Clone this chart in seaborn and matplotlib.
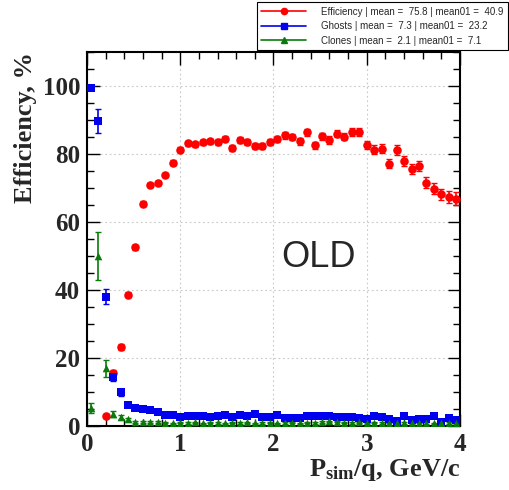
import numpy as np
import pandas as pd
import seaborn as sns
import matplotlib.pyplot as plt
from matplotlib.lines import Line2D
from matplotlib.ticker import MultipleLocator

# 50 momentum bins of 0.08 GeV/c between 0 and 4
p_edges = np.linspace(0, 4, 51)
p_centers = 0.5 * (p_edges[:-1] + p_edges[1:])

eff = [np.nan, np.nan, 3.0, 15.6, 23.2, 38.6, 52.5, 65.4, 70.9, 71.5,
       73.8, 77.4, 81.3, 83.1, 82.8, 83.4, 83.7, 83.5, 84.5, 81.7,
       84.1, 83.5, 82.4, 82.4, 83.5, 84.4, 85.5, 85.0, 83.7, 86.4,
       82.6, 85.2, 84.1, 86.0, 85.1, 86.5, 86.5, 82.6, 81.2, 81.6,
       77.2, 81.2, 77.9, 75.7, 76.5, 71.6, 69.8, 68.1, 67.4, 66.9]
eff_err = [0, 0, 0.6, 0.8, 0.8, 0.8, 0.8, 0.7, 0.7, 0.7,
           0.7, 0.7, 0.7, 0.7, 0.7, 0.8, 0.8, 0.8, 0.8, 0.8,
           0.8, 0.8, 0.9, 0.9, 0.9, 0.9, 1.0, 1.0, 1.0, 1.0,
           1.0, 1.1, 1.1, 1.1, 1.1, 1.2, 1.2, 1.2, 1.3, 1.3,
           1.4, 1.4, 1.5, 1.5, 1.5, 1.6, 1.6, 1.7, 1.7, 1.8]

ghosts = [99.5, 89.6, 38.0, 14.5, 9.9, 6.3, 5.4, 4.9, 4.8, 4.2,
          3.3, 3.3, 2.7, 2.9, 2.9, 3.0, 2.7, 3.0, 3.3, 2.7,
          3.3, 3.0, 3.6, 2.7, 2.7, 3.3, 2.5, 2.3, 2.5, 3.0,
          3.0, 3.0, 3.0, 2.7, 2.7, 2.7, 2.3, 2.0, 3.0, 2.7,
          2.0, 1.4, 3.0, 1.7, 2.0, 2.0, 3.0, 1.2, 2.3, 1.7]
ghosts_err = [0.4, 3.5, 2.2, 1.3, 1.0, 0.5, 0.4, 0.4, 0.4, 0.4,
              0.3, 0.3, 0.3, 0.3, 0.3, 0.3, 0.3, 0.3, 0.3, 0.3,
              0.3, 0.3, 0.3, 0.3, 0.3, 0.3, 0.3, 0.3, 0.3, 0.3,
              0.3, 0.3, 0.3, 0.3, 0.3, 0.3, 0.3, 0.3, 0.3, 0.3,
              0.3, 0.3, 0.3, 0.3, 0.3, 0.3, 0.3, 0.3, 0.3, 0.3]

clones = [5.2, 50.0, 17.0, 3.5, 2.7, 2.0, 1.1, 1.1, 1.3, 1.3,
          1.0, 0.8, 1.0, 0.9, 1.1, 0.8, 1.0, 0.9, 0.8, 1.0,
          0.9, 1.1, 0.8, 0.9, 1.0, 0.8, 0.9, 1.0, 0.8, 1.0,
          0.9, 1.2, 1.4, 1.3, 1.0, 0.9, 1.1, 0.8, 1.0, 0.9,
          1.0, 0.8, 0.9, 0.8, 1.0, 0.9, 0.8, 1.0, 0.9, 0.8]
clones_err = [1.5, 7.0, 2.5, 0.8, 0.6, 0.4, 0.3, 0.3, 0.3, 0.3,
              0.2, 0.2, 0.2, 0.2, 0.2, 0.2, 0.2, 0.2, 0.2, 0.2,
              0.2, 0.2, 0.2, 0.2, 0.2, 0.2, 0.2, 0.2, 0.2, 0.2,
              0.2, 0.2, 0.2, 0.2, 0.2, 0.2, 0.2, 0.2, 0.2, 0.2,
              0.2, 0.2, 0.2, 0.2, 0.2, 0.2, 0.2, 0.2, 0.2, 0.2]

labels = ['Efficiency | mean =  75.8 | mean01 =  40.9',
          'Ghosts | mean =  7.3 | mean01 =  23.2',
          'Clones | mean =  2.1 | mean01 =  7.1']
colors = ['#ff0000', '#0000ee', '#0a7a0a']
markers = ['o', 's', '^']
sizes = [38, 28, 30]

sns.set_style('ticks')
plt.rcParams['font.family'] = ['Liberation Serif', 'DejaVu Serif']
plt.rcParams['mathtext.fontset'] = 'custom'
plt.rcParams['mathtext.rm'] = 'Liberation Serif:bold'
plt.rcParams['mathtext.bf'] = 'Liberation Serif:bold'
plt.rcParams['mathtext.it'] = 'Liberation Serif:bold'

fig = plt.figure(figsize=(5.1, 4.9), dpi=100)
ax = fig.add_axes([87/510, 1 - 426/490, 373/510, 374/490])

series = [(eff, eff_err), (ghosts, ghosts_err), (clones, clones_err)]
handles = []
for (vals, errs), lab, col, mk, sz in zip(series, labels, colors, markers, sizes):
    df = pd.DataFrame({'p': p_centers, 'v': vals, 'e': errs}).dropna()
    ax.errorbar(df['p'], df['v'], yerr=df['e'], fmt='none', ecolor=col,
                elinewidth=1.2, capsize=2.5, capthick=1.0, zorder=3)
    sns.scatterplot(data=df, x='p', y='v', marker=mk, color=col, s=sz,
                    edgecolor=col, linewidth=0, ax=ax, legend=False, zorder=4)
    handles.append(Line2D([0], [0], color=col, lw=1.2, marker=mk,
                          markersize=4.5, label=lab))

ax.set_xlim(0, 4)
ax.set_ylim(0, 110)
ax.xaxis.set_major_locator(MultipleLocator(1))
ax.xaxis.set_minor_locator(MultipleLocator(0.2))
ax.yaxis.set_major_locator(MultipleLocator(20))
ax.yaxis.set_minor_locator(MultipleLocator(5))
ax.tick_params(which='both', direction='in', top=True, right=True,
               color='black', width=1.0)
ax.tick_params(which='major', length=9, labelsize=18, pad=5)
ax.tick_params(which='minor', length=5)
for lbl in ax.get_xticklabels() + ax.get_yticklabels():
    lbl.set_fontweight('bold')
for s in ax.spines.values():
    s.set_linewidth(1.5)
    s.set_color('black')

ax.grid(True, which='major', linestyle=(0, (1.5, 2.5)), color='#c8c8c8',
        linewidth=0.8)
ax.set_axisbelow(True)

ax.set_xlabel(r'P$_{\mathrm{sim}}$/q, GeV/c', fontsize=19, fontweight='bold',
              loc='right', labelpad=1)
ax.set_ylabel('Efficiency, %', fontsize=19, fontweight='bold', loc='top',
              labelpad=4)

ax.text(2.48, 49.5, 'OLD', fontsize=26, family=['Liberation Sans', 'DejaVu Sans'],
        ha='center', va='center')

fig.legend(handles=handles, loc='upper right', bbox_to_anchor=(508/510, 1 - 2/490),
           prop={'family': ['Liberation Sans', 'DejaVu Sans'], 'size': 7},
           frameon=True, fancybox=False, edgecolor='black', framealpha=1,
           handlelength=4.6, borderpad=0.5, labelspacing=0.45, handletextpad=1.5,
           borderaxespad=0)
fig.legends[0].get_frame().set_linewidth(0.8)

fig.savefig('out.png', dpi=100)
